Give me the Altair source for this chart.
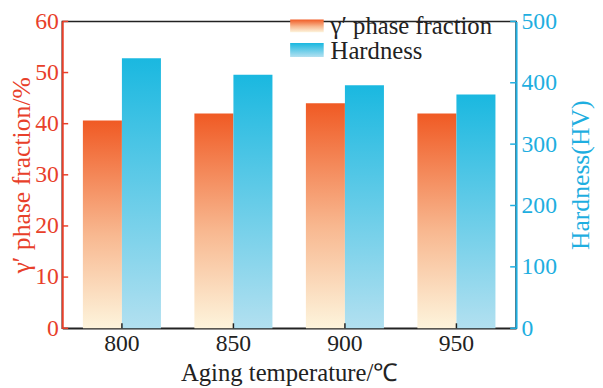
import altair as alt
import pandas as pd

temps = ["800", "850", "900", "950"]
gamma_fraction = [40.6, 42.0, 44.0, 42.0]
hardness = [440, 413, 396, 381]
left_ticks = [0, 10, 20, 30, 40, 50, 60]
right_ticks = [0, 100, 200, 300, 400, 500]

df_g = pd.DataFrame({"temp": temps, "value": gamma_fraction, "series": "g"})
df_h = pd.DataFrame({"temp": temps, "value": hardness, "series": "h"})
df_lt = pd.DataFrame({"v": left_ticks})
df_rt = pd.DataFrame({"v": right_ticks})

FONT = "Liberation Serif"
RED = "#e8402a"
BLUE = "#1eaee0"
W, H = 460, 311
TOP = 11
LABEL_FS = 24
TITLE_FS = 26

orange_grad = alt.Gradient(
    gradient="linear",
    stops=[alt.GradientStop(color="#fdf4dc", offset=0),
           alt.GradientStop(color="#f8b890", offset=0.45),
           alt.GradientStop(color="#f05a24", offset=1)],
    x1=0, x2=0, y1=1, y2=0,
)
blue_grad = alt.Gradient(
    gradient="linear",
    stops=[alt.GradientStop(color="#b2e0f0", offset=0),
           alt.GradientStop(color="#1ab8e0", offset=1)],
    x1=0, x2=0, y1=1, y2=0,
)

x_enc = alt.X("temp:N", sort=temps,
              scale=alt.Scale(paddingInner=0.3, paddingOuter=0.185),
              axis=alt.Axis(title="Aging temperature/℃", labelAngle=0,
                            labelFont=FONT, labelFontSize=LABEL_FS, labelColor="#222",
                            titleFont=FONT, titleFontSize=25, titleColor="#222",
                            titleFontWeight="normal", domainColor="#222",
                            ticks=False, labelPadding=4,
                            titleY=53, titleBaseline="alphabetic",
                            domainWidth=1.5))
xoff = alt.XOffset("series:N", scale=alt.Scale(domain=["g", "h"]))

bars_g = alt.Chart(df_g).mark_bar(color=orange_grad).encode(
    x=x_enc, xOffset=xoff,
    y=alt.Y("value:Q", scale=alt.Scale(domain=[0, 60]),
            axis=alt.Axis(title="γ′  phase fraction/%", orient="left", values=left_ticks,
                          grid=False, labelFont=FONT, labelFontSize=LABEL_FS, labelColor=RED,
                          titleFont=FONT, titleFontSize=TITLE_FS, titleColor=RED,
                          titleFontWeight="normal", titleAngle=270,
                          titleX=-41, titleY=H / 2, titleAlign="center", titleBaseline="middle",
                          domainColor=RED, domainWidth=2,
                          ticks=False, labelPadding=4)),
)

bars_h = alt.Chart(df_h).mark_bar(color=blue_grad).encode(
    x=x_enc, xOffset=xoff,
    y=alt.Y("value:Q", scale=alt.Scale(domain=[0, 500]),
            axis=alt.Axis(title="Hardness(HV)", orient="right", values=right_ticks,
                          grid=False, labelFont=FONT, labelFontSize=LABEL_FS, labelColor=BLUE,
                          titleFont=FONT, titleFontSize=TITLE_FS, titleColor=BLUE,
                          titleFontWeight="normal", titleAngle=270,
                          titleX=65, titleY=H / 2, titleAlign="center", titleBaseline="middle",
                          domainColor=BLUE, domainWidth=2,
                          ticks=False, labelPadding=5)),
)

# inward tick marks
ticks_l = alt.Chart(df_lt).mark_rule(color=RED, strokeWidth=1.5).encode(
    y=alt.Y("v:Q", scale=alt.Scale(domain=[0, 60]), axis=None),
    x=alt.value(0), x2=alt.value(6))
ticks_r = alt.Chart(df_rt).mark_rule(color=BLUE, strokeWidth=1.5).encode(
    y=alt.Y("v:Q", scale=alt.Scale(domain=[0, 500]), axis=None),
    x=alt.value(W - 6), x2=alt.value(W))
ticks_x = alt.Chart(df_g).mark_rule(color="#222", strokeWidth=1.5).encode(
    x=alt.X("temp:N", sort=temps), y=alt.value(H - 5), y2=alt.value(H))

OFF_Y = TOP + 8
leg_df = pd.DataFrame({"dummy": [0]})
leg_rect_g = alt.Chart(leg_df).mark_rect(color=orange_grad).encode(
    x=alt.value(231), x2=alt.value(265), y=alt.value(17 - OFF_Y), y2=alt.value(30 - OFF_Y))
leg_rect_h = alt.Chart(leg_df).mark_rect(color=blue_grad).encode(
    x=alt.value(231), x2=alt.value(265), y=alt.value(41 - OFF_Y), y2=alt.value(55 - OFF_Y))
leg_text_g = alt.Chart(leg_df).mark_text(align="left", baseline="middle", font=FONT,
                                         fontSize=25, color="#222").encode(
    x=alt.value(272), y=alt.value(24 - OFF_Y), text=alt.value("γ′  phase fraction"))
leg_text_h = alt.Chart(leg_df).mark_text(align="left", baseline="middle", font=FONT,
                                         fontSize=25, color="#222").encode(
    x=alt.value(272), y=alt.value(49 - OFF_Y), text=alt.value("Hardness"))

chart = alt.layer(bars_g, bars_h, ticks_l, ticks_r, ticks_x,
                  leg_rect_g, leg_rect_h, leg_text_g, leg_text_h).resolve_scale(
    y="independent"
).properties(
    width=W, height=H,
    autosize=alt.AutoSizeParams(type="none"),
    padding={"left": 55, "top": TOP, "right": 80, "bottom": 58},
).configure_view(stroke="#222", strokeWidth=1.5)

chart.save("out.html", embed_options={"renderer": "svg", "actions": False})
